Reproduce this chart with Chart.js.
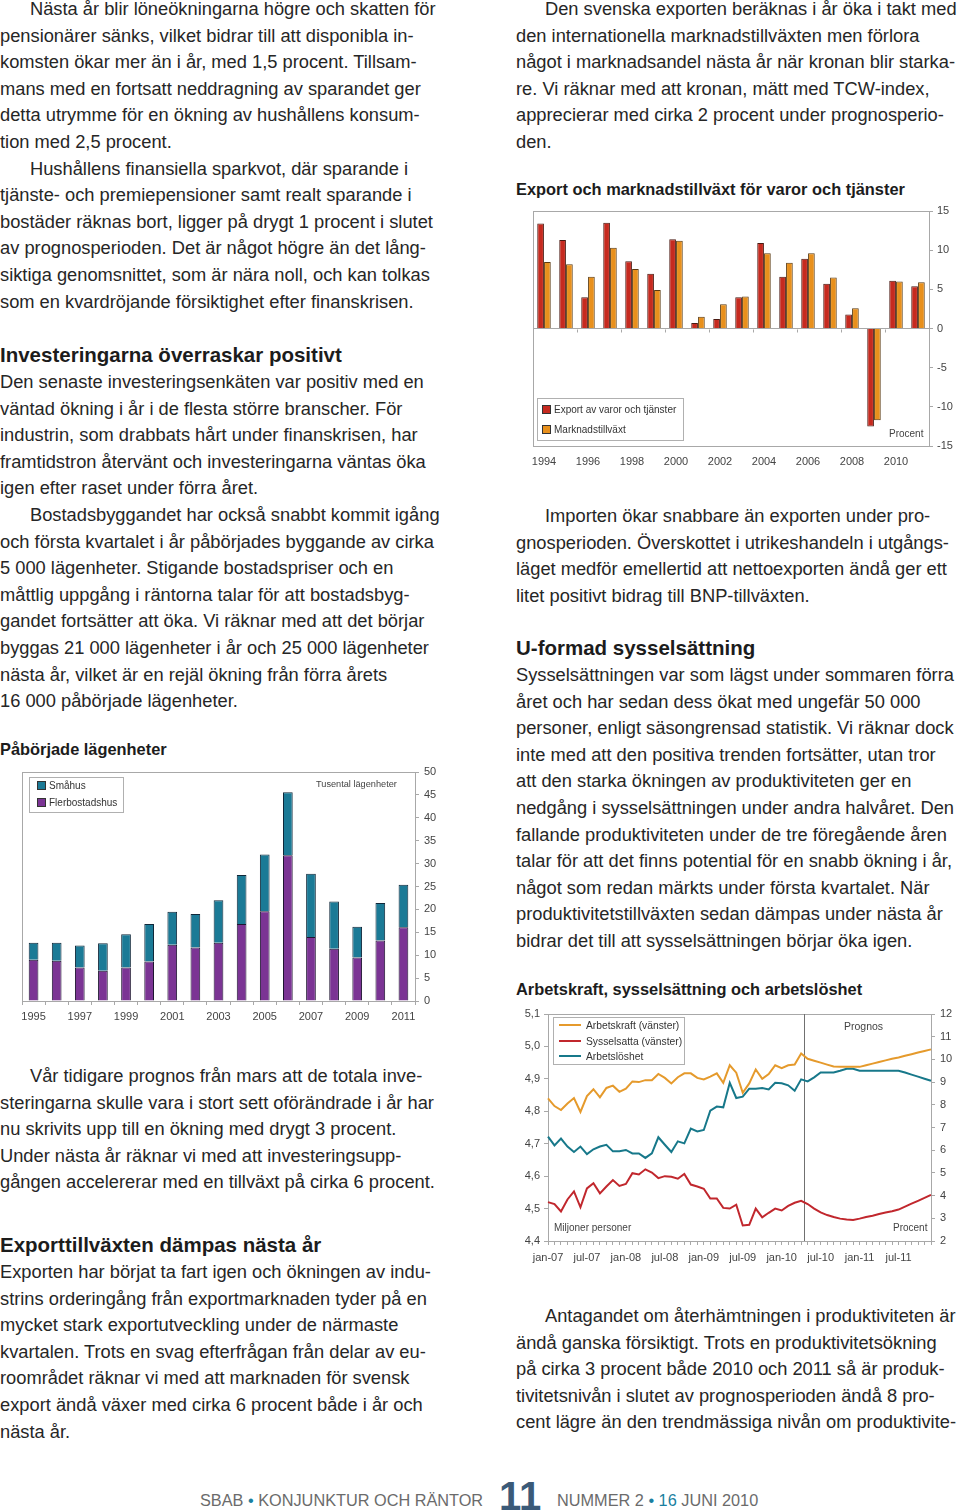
<!DOCTYPE html>
<html lang="sv">
<head>
<meta charset="utf-8">
<script src="https://cdn.jsdelivr.net/npm/chart.js@4.4.0/dist/chart.umd.min.js"></script>
<style>
  html, body { margin: 0; padding: 0; background: #fff; }
  body { width: 960px; height: 1511px; position: relative; overflow: hidden;
         font-family: "Liberation Sans", Arial, sans-serif; color: #1c1c1c; }
  .blk { position: absolute; font-size: 18.3px; line-height: 26.6px; white-space: nowrap; color: #262626; }
  .ind { padding-left: 30px; }
  .h2 { position: absolute; font-size: 20.5px; font-weight: bold; white-space: nowrap; line-height: 24px; }
  .ct { position: absolute; font-size: 16.4px; font-weight: bold; white-space: nowrap; line-height: 20px; }
  canvas { position: absolute; }
  .lg { position: absolute; border: 1px solid #b0b0b0; background: #fff; font-size: 10px; color: #333; }
  .lg div { position: absolute; white-space: nowrap; line-height: 12px; }
  .sq { display: inline-block; width: 7px; height: 7px; border: 1px solid #333; margin-right: 3px; vertical-align: -1px; }
  .ln { display: inline-block; width: 22px; height: 2px; margin-right: 5px; vertical-align: 3px; }
  .note { position: absolute; font-size: 10.5px; color: #444; white-space: nowrap; line-height: 12px; }
  .foot { position: absolute; top: 1489px; font-size: 16.3px; color: #6b6b6b; white-space: nowrap; line-height: 22px; }
  .blue { color: #1a7fa0; }
</style>
</head>
<body>

<!-- vänster spalt -->
<div class="blk" style="left:0; top:-4px;">
  <div class="ind">Nästa år blir löneökningarna högre och skatten för</div>
  <div>pensionärer sänks, vilket bidrar till att disponibla in-</div>
  <div>komsten ökar mer än i år, med 1,5 procent. Tillsam-</div>
  <div>mans med en fortsatt neddragning av sparandet ger</div>
  <div>detta utrymme för en ökning av hushållens konsum-</div>
  <div>tion med 2,5 procent.</div>
  <div class="ind">Hushållens finansiella sparkvot, där sparande i</div>
  <div>tjänste- och premiepensioner samt realt sparande i</div>
  <div>bostäder räknas bort, ligger på drygt 1 procent i slutet</div>
  <div>av prognosperioden. Det är något högre än det lång-</div>
  <div>siktiga genomsnittet, som är nära noll, och kan tolkas</div>
  <div>som en kvardröjande försiktighet efter finanskrisen.</div>
</div>

<div class="h2" style="left:0; top:343px;">Investeringarna överraskar positivt</div>
<div class="blk" style="left:0; top:369px;">
  <div>Den senaste investeringsenkäten var positiv med en</div>
  <div>väntad ökning i år i de flesta större branscher. För</div>
  <div>industrin, som drabbats hårt under finanskrisen, har</div>
  <div>framtidstron återvänt och investeringarna väntas öka</div>
  <div>igen efter raset under förra året.</div>
  <div class="ind">Bostadsbyggandet har också snabbt kommit igång</div>
  <div>och första kvartalet i år påbörjades byggande av cirka</div>
  <div>5 000 lägenheter. Stigande bostadspriser och en</div>
  <div>måttlig uppgång i räntorna talar för att bostadsbyg-</div>
  <div>gandet fortsätter att öka. Vi räknar med att det börjar</div>
  <div>byggas 21 000 lägenheter i år och 25 000 lägenheter</div>
  <div>nästa år, vilket är en rejäl ökning från förra årets</div>
  <div>16 000 påbörjade lägenheter.</div>
</div>

<div class="ct" style="left:0; top:739px;">Påbörjade lägenheter</div>
<canvas id="bostad" width="450" height="270" style="left:0; top:760px; width:450px; height:270px;"></canvas>
<div class="lg" style="left:29px; top:777px; width:93px; height:34px;">
  <div style="left:7px; top:2px;"><span class="sq" style="background:#1b7a96"></span>Småhus</div>
  <div style="left:7px; top:19px;"><span class="sq" style="background:#7b3494"></span>Flerbostadshus</div>
</div>
<div class="note" style="left:316px; top:778px; font-size:9.2px;">Tusental lägenheter</div>

<div class="blk" style="left:0; top:1063px;">
  <div class="ind">Vår tidigare prognos från mars att de totala inve-</div>
  <div>steringarna skulle vara i stort sett oförändrade i år har</div>
  <div>nu skrivits upp till en ökning med drygt 3 procent.</div>
  <div>Under nästa år räknar vi med att investeringsupp-</div>
  <div>gången accelererar med en tillväxt på cirka 6 procent.</div>
</div>

<div class="h2" style="left:0; top:1233px;">Exporttillväxten dämpas nästa år</div>
<div class="blk" style="left:0; top:1259px;">
  <div>Exporten har börjat ta fart igen och ökningen av indu-</div>
  <div>strins orderingång från exportmarknaden tyder på en</div>
  <div>mycket stark exportutveckling under de närmaste</div>
  <div>kvartalen. Trots en svag efterfrågan från delar av eu-</div>
  <div>roområdet räknar vi med att marknaden för svensk</div>
  <div>export ändå växer med cirka 6 procent både i år och</div>
  <div>nästa år.</div>
</div>

<!-- höger spalt -->
<div class="blk" style="left:516px; top:-4px;">
  <div class="ind" style="padding-left:29px">Den svenska exporten beräknas i år öka i takt med</div>
  <div>den internationella marknadstillväxten men förlora</div>
  <div>något i marknadsandel nästa år när kronan blir starka-</div>
  <div>re. Vi räknar med att kronan, mätt med TCW-index,</div>
  <div>apprecierar med cirka 2 procent under prognosperio-</div>
  <div>den.</div>
</div>

<div class="ct" style="left:516px; top:179px;">Export och marknadstillväxt för varor och tjänster</div>
<canvas id="export" width="444" height="280" style="left:516px; top:195px; width:444px; height:280px;"></canvas>
<div class="lg" style="left:537px; top:398px; width:145px; height:41px;">
  <div style="left:4px; top:5px;"><span class="sq" style="background:#c62a1f"></span>Export av varor och tjänster</div>
  <div style="left:4px; top:25px;"><span class="sq" style="background:#e8901c"></span>Marknadstillväxt</div>
</div>
<div class="note" style="left:889px; top:428px; font-size:10px;">Procent</div>

<div class="blk" style="left:516px; top:503px;">
  <div class="ind" style="padding-left:29px">Importen ökar snabbare än exporten under pro-</div>
  <div>gnosperioden. Överskottet i utrikeshandeln i utgångs-</div>
  <div>läget medför emellertid att nettoexporten ändå ger ett</div>
  <div>litet positivt bidrag till BNP-tillväxten.</div>
</div>

<div class="h2" style="left:516px; top:636px;">U-formad sysselsättning</div>
<div class="blk" style="left:516px; top:662px;">
  <div>Sysselsättningen var som lägst under sommaren förra</div>
  <div>året och har sedan dess ökat med ungefär 50 000</div>
  <div>personer, enligt säsongrensad statistik. Vi räknar dock</div>
  <div>inte med att den positiva trenden fortsätter, utan tror</div>
  <div>att den starka ökningen av produktiviteten ger en</div>
  <div>nedgång i sysselsättningen under andra halvåret. Den</div>
  <div>fallande produktiviteten under de tre föregående åren</div>
  <div>talar för att det finns potential för en snabb ökning i år,</div>
  <div>något som redan märkts under första kvartalet. När</div>
  <div>produktivitetstillväxten sedan dämpas under nästa år</div>
  <div>bidrar det till att sysselsättningen börjar öka igen.</div>
</div>

<div class="ct" style="left:516px; top:979px;">Arbetskraft, sysselsättning och arbetslöshet</div>
<canvas id="arbete" width="444" height="270" style="left:516px; top:1000px; width:444px; height:270px;"></canvas>
<div class="lg" style="left:553px; top:1017px; width:130px; height:46px; font-size:10.3px;">
  <div style="left:5px; top:2px;"><span class="ln" style="background:#e59a2c"></span>Arbetskraft (vänster)</div>
  <div style="left:5px; top:18px;"><span class="ln" style="background:#c1272d"></span>Sysselsatta (vänster)</div>
  <div style="left:5px; top:33px;"><span class="ln" style="background:#17788a"></span>Arbetslöshet</div>
</div>
<div class="note" style="left:844px; top:1020px; font-size:10.5px;">Prognos</div>
<div class="note" style="left:554px; top:1222px; font-size:10px;">Miljoner personer</div>
<div class="note" style="left:893px; top:1222px; font-size:10px;">Procent</div>

<div class="blk" style="left:516px; top:1303px;">
  <div class="ind" style="padding-left:29px">Antagandet om återhämtningen i produktiviteten är</div>
  <div>ändå ganska försiktigt. Trots en produktivitetsökning</div>
  <div>på cirka 3 procent både 2010 och 2011 så är produk-</div>
  <div>tivitetsnivån i slutet av prognosperioden ändå 8 pro-</div>
  <div>cent lägre än den trendmässiga nivån om produktivite-</div>
</div>

<!-- sidfot -->
<div class="foot" style="left:200px;">SBAB <span class="blue">•</span> KONJUNKTUR OCH RÄNTOR</div>
<div class="foot" style="left:499px; top:1474px; font-size:40px; line-height:44px; font-weight:bold; color:#3b5a78;">11</div>
<div class="foot" style="left:557px;">NUMMER 2 <span class="blue">•</span> <span class="blue">16</span> JUNI 2010</div>

<script>
// Export och marknadstillväxt
const exportYears = ["1994", "1995", "1996", "1997", "1998", "1999", "2000", "2001", "2002",
  "2003", "2004", "2005", "2006", "2007", "2008", "2009", "2010", "2011"];
const exportGrowth = [13.4, 11.3, 4.0, 13.5, 8.6, 7.0, 11.4, 0.7, 1.2, 4.0, 10.9, 6.6, 8.9, 5.7, 1.8, -12.5, 6.1, 5.4];
const marketGrowth = [8.5, 8.2, 6.6, 10.3, 7.6, 4.9, 11.2, 1.5, 3.1, 4.1, 9.6, 8.4, 9.6, 6.5, 2.6, -11.7, 6.0, 5.9];
const exportTicks = [-15, -10, -5, 0, 5, 10, 15];

// Påbörjade lägenheter, tusental
const houseYears = ["1995", "1996", "1997", "1998", "1999", "2000", "2001", "2002", "2003",
  "2004", "2005", "2006", "2007", "2008", "2009", "2010", "2011"];
const flerbostadshus = [9.0, 8.8, 7.3, 6.6, 7.3, 8.6, 12.3, 11.7, 12.7, 16.8, 19.6, 31.8, 14.0, 11.4, 9.5, 13.2, 16.1];
const smahus = [3.7, 3.9, 4.8, 6.0, 7.3, 8.2, 7.2, 7.3, 9.3, 10.7, 12.4, 13.8, 13.8, 10.3, 6.7, 8.2, 9.3];

// Arbetskraft, sysselsättning och arbetslöshet, jan-07 -- dec-11
const monthNames = ["jan", "feb", "mar", "apr", "maj", "jun", "jul", "aug", "sep", "okt", "nov", "dec"];
const labourYears = ["07", "08", "09", "10", "11"];
const arbetskraft = [4.84, 4.816, 4.804, 4.824, 4.841, 4.798, 4.847, 4.868, 4.843, 4.872,
  4.879, 4.860, 4.870, 4.892, 4.890, 4.896, 4.896, 4.915, 4.903, 4.886,
  4.905, 4.917, 4.917, 4.903, 4.898, 4.907, 4.917, 4.888, 4.942, 4.919,
  4.857, 4.886, 4.929, 4.900, 4.915, 4.942, 4.933, 4.942, 4.944, 4.978,
  4.962, 4.956, 4.950, 4.944, 4.938, 4.937, 4.937, 4.937, 4.937, 4.942,
  4.947, 4.952, 4.957, 4.962, 4.966, 4.971, 4.976, 4.981, 4.986, 4.991];
const sysselsatta = [4.520, 4.514, 4.491, 4.528, 4.553, 4.504, 4.562, 4.578, 4.547, 4.568,
  4.588, 4.570, 4.576, 4.609, 4.605, 4.621, 4.611, 4.594, 4.600, 4.598,
  4.592, 4.607, 4.574, 4.568, 4.561, 4.531, 4.531, 4.502, 4.500, 4.512,
  4.448, 4.450, 4.500, 4.473, 4.487, 4.500, 4.494, 4.508, 4.518, 4.524,
  4.514, 4.500, 4.488, 4.480, 4.474, 4.469, 4.466, 4.465, 4.469, 4.474,
  4.478, 4.483, 4.488, 4.492, 4.497, 4.506, 4.515, 4.524, 4.533, 4.542];
const arbetsloshet = [6.60, 6.21, 6.51, 6.16, 5.92, 6.16, 5.83, 6.04, 6.16, 6.24,
  5.95, 5.95, 6.01, 5.86, 5.86, 5.66, 5.86, 6.57, 6.24, 5.92,
  6.39, 6.30, 6.95, 6.83, 6.89, 7.74, 7.92, 7.89, 8.97, 8.30,
  8.36, 8.71, 8.71, 8.74, 8.68, 8.97, 8.95, 8.86, 8.62, 9.12,
  9.03, 9.21, 9.42, 9.42, 9.42, 9.50, 9.59, 9.59, 9.50, 9.50,
  9.50, 9.50, 9.50, 9.50, 9.50, 9.42, 9.33, 9.24, 9.15, 9.06];
const prognosStart = 39.4; // mellan apr-10 och maj-10

const months = [];
labourYears.forEach(y => monthNames.forEach(m => months.push(m + "-" + y)));

Chart.defaults.font.family = '"Liberation Sans", Arial, sans-serif';
Chart.defaults.font.size = 11;
Chart.defaults.color = "#444";
Chart.defaults.animation = false;

const axisGray = "#a8a8a8";

// ram runt ritytan
const frame = {
  id: "frame",
  beforeDatasetsDraw(chart) {
    const a = chart.chartArea, c = chart.ctx;
    c.save();
    c.strokeStyle = axisGray;
    c.lineWidth = 1;
    c.strokeRect(Math.round(a.left) + 0.5, Math.round(a.top) + 0.5,
      Math.round(a.right - a.left), Math.round(a.bottom - a.top));
    c.restore();
  }
};

// små streck på nollinjen (exportdiagrammet)
const zeroTicks = {
  id: "zeroTicks",
  beforeDatasetsDraw(chart) {
    const x = chart.scales.x, y = chart.scales.y, c = chart.ctx;
    const y0 = Math.round(y.getPixelForValue(0)) + 0.5;
    const step = (x.right - x.left) / exportYears.length;
    c.save();
    c.strokeStyle = axisGray;
    c.beginPath();
    for (let i = 0; i <= exportYears.length; i += 2) {
      const px = Math.round(x.left + i * step) + 0.5;
      c.moveTo(px, y0);
      c.lineTo(px, y0 + 3);
    }
    c.stroke();
    c.restore();
  }
};

// Export
new Chart(document.getElementById("export"), {
  type: "bar",
  data: {
    labels: exportYears,
    datasets: [
      { label: "Export av varor och tjänster", data: exportGrowth, backgroundColor: "#c62a1f",
        borderColor: "#4a1a12", borderWidth: 1, categoryPercentage: 0.62, barPercentage: 0.98 },
      { label: "Marknadstillväxt", data: marketGrowth, backgroundColor: "#e8901c",
        borderColor: "#5a3a10", borderWidth: 1, categoryPercentage: 0.62, barPercentage: 0.98 }
    ]
  },
  options: {
    responsive: false,
    layout: { padding: { left: 17, top: 16, right: 0, bottom: 0 } },
    plugins: { legend: { display: false }, tooltip: { enabled: false } },
    scales: {
      x: {
        grid: { display: false, drawTicks: false },
        border: { display: false },
        ticks: { maxRotation: 0, minRotation: 0, autoSkip: false, padding: 9,
                 callback: (v, i) => (i % 2 === 0 ? exportYears[i] : "") },
        afterFit: s => { s.height = 29; }
      },
      y: {
        position: "right",
        min: -15, max: 15,
        afterBuildTicks: s => { s.ticks = exportTicks.map(v => ({ value: v })); },
        grid: { color: c => (c.tick && c.tick.value === 0 ? axisGray : "transparent"),
                tickColor: axisGray, tickLength: 4 },
        border: { color: axisGray },
        ticks: { padding: 4 },
        afterFit: s => { s.width = 31; }
      }
    }
  },
  plugins: [frame, zeroTicks]
});

// Påbörjade lägenheter
new Chart(document.getElementById("bostad"), {
  type: "bar",
  data: {
    labels: houseYears,
    datasets: [
      { label: "Flerbostadshus", data: flerbostadshus, backgroundColor: "#7b3494",
        borderColor: "#1e1530", borderWidth: 1, categoryPercentage: 1, barPercentage: 0.42 },
      { label: "Småhus", data: smahus, backgroundColor: "#1b7a96",
        borderColor: "#10283a", borderWidth: 1, categoryPercentage: 1, barPercentage: 0.42 }
    ]
  },
  options: {
    responsive: false,
    layout: { padding: { left: 22, top: 12, right: 0, bottom: 0 } },
    plugins: { legend: { display: false }, tooltip: { enabled: false } },
    scales: {
      x: {
        stacked: true,
        grid: { display: true, drawOnChartArea: false, offset: true, tickLength: 4, tickColor: axisGray,
                color: c => (c.index % 2 === 0 ? axisGray : "transparent") },
        border: { color: axisGray },
        ticks: { maxRotation: 0, minRotation: 0, autoSkip: false, padding: 5,
                 callback: (v, i) => (i % 2 === 0 ? houseYears[i] : "") },
        afterFit: s => { s.height = 29; }
      },
      y: {
        stacked: true,
        position: "right",
        min: 0, max: 50,
        ticks: { stepSize: 5, padding: 5 },
        grid: { drawOnChartArea: false, tickColor: axisGray, tickLength: 4 },
        border: { color: axisGray },
        afterFit: s => { s.width = 35; }
      }
    }
  },
  plugins: [frame]
});

// Prognoslinje
const prognosLine = {
  id: "prognosLine",
  beforeDatasetsDraw(chart) {
    const x = chart.scales.x, a = chart.chartArea, c = chart.ctx;
    const i = Math.floor(prognosStart);
    const px = x.getPixelForValue(i) + (prognosStart - i) * (x.getPixelForValue(i + 1) - x.getPixelForValue(i));
    c.save();
    c.strokeStyle = "#707070";
    c.lineWidth = 1;
    c.beginPath();
    c.moveTo(Math.round(px) + 0.5, a.top);
    c.lineTo(Math.round(px) + 0.5, a.bottom);
    c.stroke();
    c.restore();
  }
};

// Arbetskraft
new Chart(document.getElementById("arbete"), {
  type: "line",
  data: {
    labels: months,
    datasets: [
      { label: "Arbetskraft (vänster)", data: arbetskraft, borderColor: "#e59a2c", yAxisID: "y" },
      { label: "Sysselsatta (vänster)", data: sysselsatta, borderColor: "#c1272d", yAxisID: "y" },
      { label: "Arbetslöshet", data: arbetsloshet, borderColor: "#17788a", yAxisID: "y2" }
    ]
  },
  options: {
    responsive: false,
    layout: { padding: { left: 0, top: 14, right: 0, bottom: 0 } },
    elements: { point: { radius: 0 }, line: { borderWidth: 2, tension: 0 } },
    plugins: { legend: { display: false }, tooltip: { enabled: false } },
    scales: {
      x: {
        grid: { drawOnChartArea: false, tickLength: 4, tickColor: axisGray },
        border: { color: axisGray },
        ticks: { maxRotation: 0, minRotation: 0, autoSkip: false, padding: 6,
                 callback: (v, i) => (i % 6 === 0 ? months[i] : "") },
        afterFit: s => { s.height = 29; }
      },
      y: {
        position: "left",
        min: 4.4, max: 5.1,
        ticks: { stepSize: 0.1, padding: 4,
                 callback: v => (Math.round(v * 10) / 10).toFixed(1).replace(".", ",") },
        grid: { drawOnChartArea: false, tickColor: axisGray, tickLength: 4 },
        border: { color: axisGray },
        afterFit: s => { s.width = 32; }
      },
      y2: {
        position: "right",
        min: 2, max: 12,
        ticks: { stepSize: 1, padding: 5 },
        grid: { drawOnChartArea: false, tickColor: axisGray, tickLength: 4 },
        border: { color: axisGray },
        afterFit: s => { s.width = 29; }
      }
    }
  },
  plugins: [frame, prognosLine]
});
</script>
</body>
</html>
